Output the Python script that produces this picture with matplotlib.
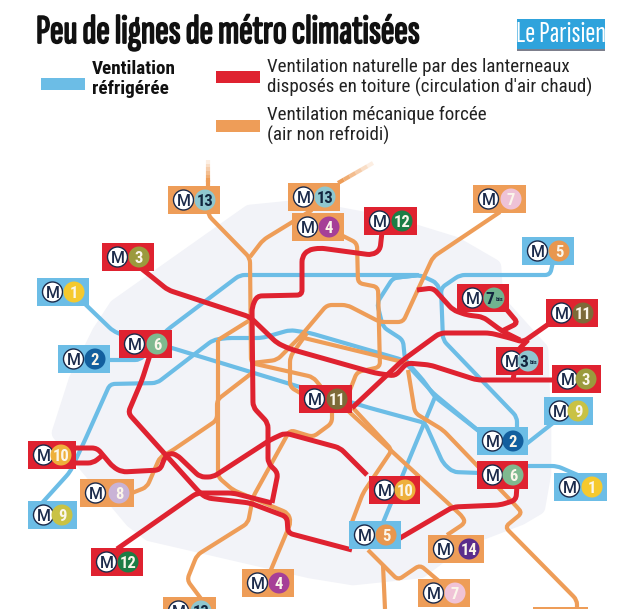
import matplotlib
matplotlib.use("Agg")
import matplotlib.pyplot as plt
import matplotlib.patheffects as pe
from matplotlib.path import Path
from matplotlib.patches import PathPatch, Rectangle, Circle, Polygon

# ---- data: schematic routes (map coordinates) ----
BLUE_1W = [(85,304),(113,331),(125,336),(172,348),(300,387),(370,408),(425,423),(443,463),(453,472),(480,473)]
BLUE_1E = [(525,466),(557,466),(580,476)]
BLUE_2 = [(105,360),(140,360),(167,330),(240,275),(420,275),(393,278),(377,303),(383,327),(403,340),(405,360),(423,380),(435,397),(480,432)]
BLUE_5N = [(553,262),(550,275),(460,275),(441,288),(443,340),(517,417),(517,432)]
BLUE_2B = [(393,278),(420,275),(437,283),(443,300)]
BLUE_5S = [(435,397),(382,525)]
BLUE_9 = [(42,503),(70,472),(85,440),(110,384),(157,383),(213,340),(227,338),(262,338),(290,330),(310,333),(403,360),(433,393),(480,432)]
BLUE_9E = [(525,445),(553,423)]
BLUE_LINES = [BLUE_1W, BLUE_1E, BLUE_2, BLUE_2B, BLUE_5N, BLUE_5S, BLUE_9, BLUE_9E]

ORANGE_13A = [(208,180),(208,215),(250,258),(251,363),(313,377),(322,388)]
ORANGE_13B = [(312,210),(263,240),(250,257)]
ORANGE_13S = [(332,410),(332,423),(313,437),(290,430),(253,497),(248,523),(197,555),(187,580),(202,600)]
ORANGE_4N = [(335,232),(357,243),(358,283),(378,287),(380,367),(357,372),(350,390)]
ORANGE_4S = [(218,340),(218,477),(233,490),(288,513),(291,522),(270,572)]
ORANGE_4T = [(250,320),(218,340)]
ORANGE_8 = [(132,493),(147,487),(160,457),(170,452),(217,420),(217,400),(252,373)]
ORANGE_8B = [(252,363),(277,360),(300,337),(327,305),(347,305),(380,322),(403,322),(433,257),(500,212)]
ORANGE_7S = [(307,333),(290,357),(290,387),(302,394)]
ORANGE_14N = [(408,370),(415,413),(443,430),(517,507),(522,513),(505,527),(577,600),(577,609)]
ORANGE_TH = [(300,337),(407,363)]
ORANGE_8S = [(353,408),(392,450),(363,493),(352,522)]
ORANGE_14 = [(345,408),(463,517),(465,523),(447,535)]
ORANGE_7B = [(368,550),(398,580),(420,565),(440,582)]
ORANGE_5B = [(383,565),(385,609)]
ORANGE_LINES = [ORANGE_13A, ORANGE_13B, ORANGE_13S, ORANGE_4N, ORANGE_4S, ORANGE_4T, ORANGE_8, ORANGE_8B,
                ORANGE_7S, ORANGE_14N, ORANGE_TH, ORANGE_8S, ORANGE_14, ORANGE_7B, ORANGE_5B]
ORANGE_FADES = [[(208,160),(208,182)], [(373,163),(338,183)]]

RED_3 = [(128,258),(147,273),(168,290),(250,317),(277,343),(290,349),(375,373),(395,376),(407,363),(430,365),(477,380),(555,380)]
RED_11 = [(550,323),(523,342),(510,338),(490,333),(440,333),(403,360),(352,408)]
RED_3B = [(513,380),(518,350),(528,340)]
RED_7B = [(417,290),(433,288),(453,310),(467,315),(483,317),(502,331),(520,340)]
RED_7L = [(502,331),(518,323),(507,310)]
RED_12 = [(382,232),(380,250),(372,255),(320,248),(308,250),(302,257),(302,295),(257,296),(252,307),(253,407),(268,423),(268,463),(278,473),(272,503)]
RED_12S = [(117,549),(197,493),(233,493),(272,503)]
RED_10 = [(72,448),(97,448),(113,467),(122,472),(160,470),(165,457),(170,453),(177,455),(200,477),(213,477),(270,440),(285,433),(340,448),(367,475)]
RED_10B = [(72,463),(93,463),(103,455)]
RED_6 = [(150,355),(142,380),(128,413),(200,493),(207,498),(250,503),(287,517),(288,533),(352,550)]
RED_6E = [(395,541),(453,507),(500,505),(516,500),(517,485)]
RED_LINES = [RED_3, RED_11, RED_3B, RED_7B, RED_7L, RED_12, RED_12S, RED_10, RED_10B, RED_6, RED_6E]

PARIS_OUTLINE = [(60,433),(77,380),(100,333),(117,307),(250,213),(300,208),(390,225),(455,245),(493,267),
                 (495,300),(540,350),(543,430),(543,473),(537,507),(520,517),(460,540),(420,570),(353,577),
                 (310,570),(150,533),(133,520)]

# ---- data: station badges ----
BADGE_LEFT = [168,288,292,364,473,522,102,37,119,58,457,546,496,552,544,477,477,554,369,349,428,418,299,28,80,28,91,242,163,533]
BADGE_TOP = [186,183,213,207,185,237,243,278,330,345,284,299,347,365,397,427,461,473,476,521,535,579,385,441,479,501,548,569,597,607]
BADGE_WIDTH = [52,52,52,53,53,52,52,52,53,52,52,52,47,49,49,51,51,53,51,52,56,52,53,48,54,49,52,52,53,55]
BADGE_KIND = ['o','o','o','r','o','b','r','b','r','b','r','r','r','r','b','b','r','b','r','b','o','o','r','r','o','b','r','o','o','o']
BADGE_TEXT = ['13','13','4','12','7','5','3','1','6','2','7','11','3','3','9','2','6','1','10','5','14','7','11','10','8','9','12','4','13','']
BADGE_SUP = ['','','','','','','','','','','bis','','bis','','','','','','','','','','','','','','','','','']
BADGE_DISC = ['#8fc7cf','#8fc7cf','#a63f97','#1c7d45','#eec2d6','#e8974f','#9b9a3d','#f5c92e','#7fb98f','#135f9e',
              '#70b48f','#7d6a38','#8fc7cf','#9b9a3d','#c9c244','#135f9e','#7fb98f','#f5c92e','#eeb03c','#e8974f',
              '#5b2d8c','#f0c3d7','#7d6a38','#eeb03c','#c9b3d6','#c9c244','#1c7d45','#a63f97','#8fc7cf','#f0c3d7']

# ---- data: text ----
TITLE = "Peu de lignes de métro climatisées"
LOGO = "Le Parisien"
LEG_BLUE = ["Ventilation", "réfrigérée"]
LEG_RED = ["Ventilation naturelle par des lanterneaux", "disposés en toiture (circulation d'air chaud)"]
LEG_ORANGE = ["Ventilation mécanique forcée", "(air non refroidi)"]

BLUE, RED, ORANGE = '#6cbde6', '#df2230', '#ee9d58'
KIND_COLOR = {'b': BLUE, 'r': RED, 'o': ORANGE}
NAVY = '#1b2a4a'
COND = ['Roboto Condensed', 'Roboto', 'DejaVu Sans']
XCOND = ['Sofia Sans Extra Condensed', 'Fira Sans Extra Condensed', 'Roboto Condensed', 'Roboto', 'DejaVu Sans']


def rounded(points, r=5.0):
    verts, codes = [points[0]], [Path.MOVETO]
    for i in range(1, len(points) - 1):
        p0, p1, p2 = points[i-1], points[i], points[i+1]
        d1 = ((p1[0]-p0[0])**2 + (p1[1]-p0[1])**2)**.5
        d2 = ((p2[0]-p1[0])**2 + (p2[1]-p1[1])**2)**.5
        r1, r2 = min(r, d1/2), min(r, d2/2)
        a = (p1[0]+(p0[0]-p1[0])*r1/d1, p1[1]+(p0[1]-p1[1])*r1/d1)
        b = (p1[0]+(p2[0]-p1[0])*r2/d2, p1[1]+(p2[1]-p1[1])*r2/d2)
        verts += [a, p1, b]
        codes += [Path.LINETO, Path.CURVE3, Path.CURVE3]
    verts.append(points[-1])
    codes.append(Path.LINETO)
    return Path(verts, codes)


fig = plt.figure(figsize=(6.4, 6.09), dpi=100, facecolor='white')
ax = fig.add_axes([0, 0, 1, 1])
ax.set_xlim(0, 640)
ax.set_ylim(609, 0)
ax.axis('off')

ax.add_patch(Polygon(PARIS_OUTLINE, closed=True, facecolor='#f2f3f8', edgecolor='#f2f3f8', lw=12, joinstyle='round', zorder=1))

for routes, col, w, z in ((BLUE_LINES, BLUE, 3.0, 2), (ORANGE_LINES, ORANGE, 3.0, 3), (RED_LINES, RED, 3.6, 4)):
    for pts in routes:
        ax.add_patch(PathPatch(rounded(pts), fill=False, edgecolor=col, lw=w, capstyle='butt', zorder=z))

for (a, b) in ORANGE_FADES:
    n = 6
    for i in range(n):
        t0, t1 = i/n, (i+1)/n
        ax.plot([a[0]+(b[0]-a[0])*t0, a[0]+(b[0]-a[0])*t1], [a[1]+(b[1]-a[1])*t0, a[1]+(b[1]-a[1])*t1],
                color=ORANGE, lw=3.0, alpha=(i+1)/n, solid_capstyle='butt', zorder=3)

for x, y, w, k, txt, sup, disc in zip(BADGE_LEFT, BADGE_TOP, BADGE_WIDTH, BADGE_KIND, BADGE_TEXT, BADGE_SUP, BADGE_DISC):
    h = 28
    ax.add_patch(Rectangle((x, y), w, h, facecolor=KIND_COLOR[k], edgecolor='none', zorder=6))
    if not txt:
        continue
    cy = y + h/2
    ax.add_patch(Circle((x+15.5, cy), 10, facecolor='white', edgecolor=NAVY, lw=1.0, zorder=7))
    ax.text(x+15.5, cy, 'M', color=NAVY, fontsize=11.5, family='Roboto', fontweight='medium',
            ha='center', va='center_baseline', zorder=8, clip_on=True)
    ax.add_patch(Circle((x+w-15, cy), 10.5, facecolor=disc, edgecolor='none', zorder=7))
    dark = disc == '#8fc7cf' or sup
    tc = '#12263f' if dark else '#fbf6ea'
    if sup:
        ax.text(x+w-19, cy, txt, color=tc, fontsize=12.5, family=COND, fontweight='bold', ha='center',
                va='center_baseline', zorder=8)
        ax.text(x+w-9, cy+1, sup, color=tc, fontsize=4.5, family=COND, fontweight='bold', ha='center',
                va='center_baseline', zorder=8)
    else:
        ax.text(x+w-15, cy, txt, color=tc, fontsize=12, family=COND, fontweight='bold', ha='center',
                va='center_baseline', zorder=8, clip_on=True)

# header
ax.text(36, 33, TITLE, fontsize=29.5, fontweight='bold', family=XCOND, color='#111111', va='center', ha='left',
        path_effects=[pe.withStroke(linewidth=1.3, foreground='#111111')])
ax.add_patch(Rectangle((517, 19), 88, 30, facecolor='#2fa3dc', edgecolor='none', zorder=2))
ax.add_patch(Rectangle((517, 49), 88, 1.5, facecolor='#7d7f8c', edgecolor='none', zorder=2))
ax.text(561, 35, LOGO, fontsize=22, family=XCOND, color='white', ha='center', va='center', zorder=3)

# legend
for (yy, col, xx) in ((78, BLUE, 41), (71, RED, 216), (120, ORANGE, 216)):
    ax.add_patch(Rectangle((xx, yy), 44, 11.5, facecolor=col, edgecolor='none'))
for i, s in enumerate(LEG_BLUE):
    ax.text(92, 69+20*i, s, fontsize=13.8, fontweight='bold', family=COND, color='#111111', va='center')
for i, s in enumerate(LEG_RED):
    ax.text(267, 67+20.5*i, s, fontsize=13.7, family=COND, color='#222222', va='center')
for i, s in enumerate(LEG_ORANGE):
    ax.text(267, 115+20*i, s, fontsize=13.7, family=COND, color='#222222', va='center')

fig.savefig('out.png', dpi=100)
